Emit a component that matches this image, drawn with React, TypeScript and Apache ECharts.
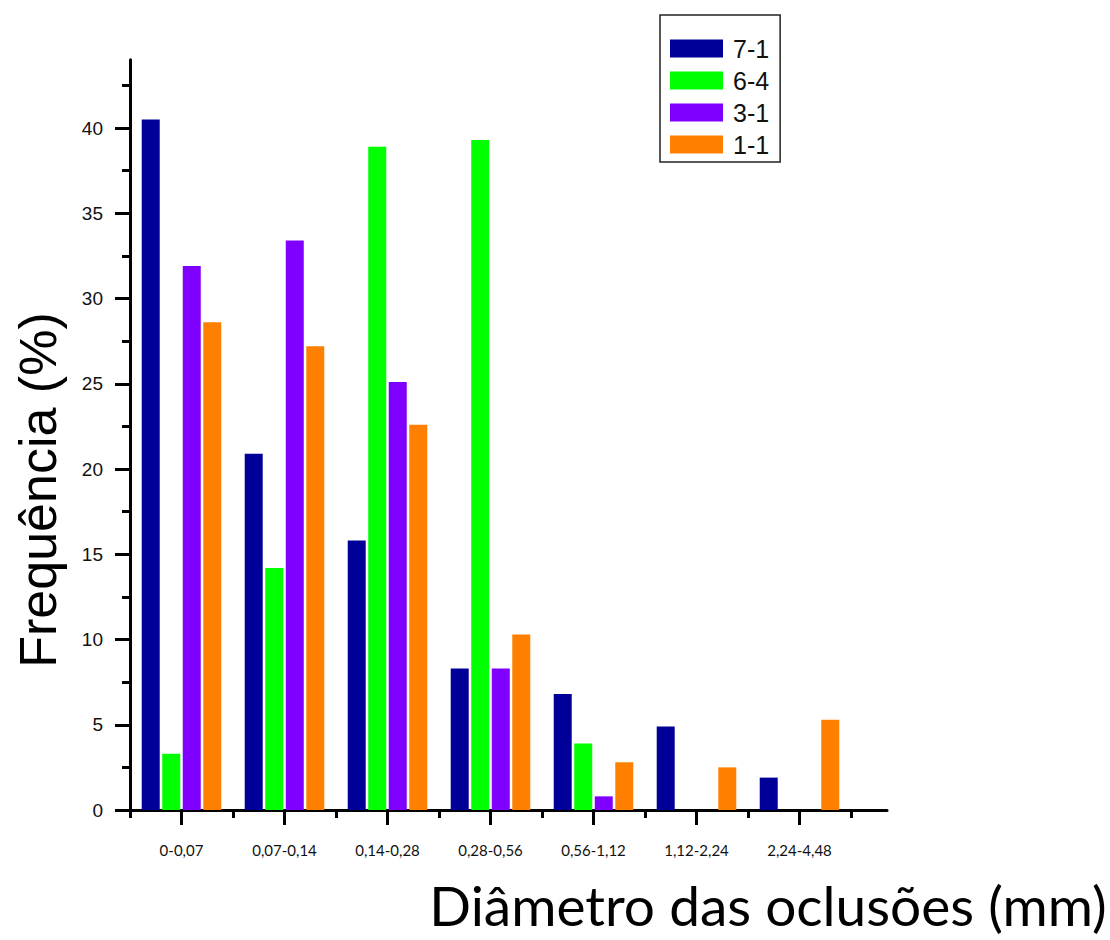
import React, { useEffect, useRef } from 'react';
import * as echarts from 'echarts';

// ---- data ----
const categories = ['0-0,07', '0,07-0,14', '0,14-0,28', '0,28-0,56', '0,56-1,12', '1,12-2,24', '2,24-4,48'];
const seriesNames = ['7-1', '6-4', '3-1', '1-1'];
const values71 = [40.5, 20.9, 15.8, 8.3, 6.8, 4.9, 1.9];
const values64 = [3.3, 14.2, 38.9, 39.3, 3.9, 0, 0];
const values31 = [31.9, 33.4, 25.1, 8.3, 0.8, 0, 0];
const values11 = [28.6, 27.2, 22.6, 10.3, 2.8, 2.5, 5.3];
const seriesColors = ['#000099', '#00FF00', '#8000FF', '#FF8000'];
const yMax = 44;
const yLabelMax = 40;
const yMinorMax = 42.5;

const xTitle = 'Diâmetro das oclusões (mm)';
const yTitle = 'Frequência (%)';

// ---- layout ----
const PX = 17.05; // pixels per unit
const X0 = 130;
const Y0 = 810;
const PLOT_W = 721;
const AXIS_W = 757;

export default function App() {
  const ref = useRef<HTMLDivElement>(null);

  useEffect(() => {
    if (!ref.current) return;
    const chart = echarts.init(ref.current, undefined, { renderer: 'svg' });
    const black = '#000';
    const seriesData = [values71, values64, values31, values11];

    const option: any = {
      animation: false,
      backgroundColor: '#fff',
      grid: [
        { left: X0, top: Y0 - yMax * PX, width: PLOT_W, height: yMax * PX },
        { left: X0, top: Y0 - yMax * PX, width: AXIS_W, height: yMax * PX },
        { left: X0, top: Y0 - yMinorMax * PX, width: PLOT_W, height: yMinorMax * PX },
        { left: X0, top: Y0 - yLabelMax * PX, width: PLOT_W, height: yLabelMax * PX },
      ],
      xAxis: [
        {
          type: 'category', gridIndex: 0, data: categories, position: 'bottom',
          axisLine: { show: true, lineStyle: { color: black, width: 3 } },
          axisTick: { show: true, alignWithLabel: false, length: 8, lineStyle: { color: black, width: 3 } },
          axisLabel: { show: false },
        },
        {
          type: 'category', gridIndex: 0, data: categories, position: 'bottom',
          axisLine: { show: false },
          axisTick: { show: true, alignWithLabel: true, length: 15, lineStyle: { color: black, width: 3 } },
          axisLabel: { show: true, interval: 0, margin: 32, fontSize: 15, fontFamily: 'Lato', color: '#111' },
        },
        {
          type: 'value', gridIndex: 1, min: 0, max: 1,
          axisLine: { show: true, lineStyle: { color: black, width: 3 } },
          axisTick: { show: false }, axisLabel: { show: false }, splitLine: { show: false },
        },
        { type: 'value', gridIndex: 2, show: false },
        { type: 'value', gridIndex: 3, show: false },
      ],
      yAxis: [
        {
          type: 'value', gridIndex: 0, min: 0, max: yMax,
          axisLine: { show: true, lineStyle: { color: black, width: 3 } },
          axisTick: { show: false }, axisLabel: { show: false }, splitLine: { show: false },
        },
        { type: 'value', gridIndex: 1, min: 0, max: 1, show: false },
        {
          type: 'value', gridIndex: 2, min: 0, max: yMinorMax, interval: 2.5,
          axisLine: { show: false },
          axisTick: { show: true, length: 8, lineStyle: { color: black, width: 3 } },
          axisLabel: { show: false }, splitLine: { show: false },
        },
        {
          type: 'value', gridIndex: 3, min: 0, max: yLabelMax, interval: 5,
          axisLine: { show: false },
          axisTick: { show: true, length: 15, lineStyle: { color: black, width: 3 } },
          axisLabel: { show: true, margin: 27, color: '#111', fontSize: 19, fontFamily: 'Liberation Sans' },
          splitLine: { show: false },
        },
      ],
      legend: {
        data: seriesNames,
        orient: 'vertical',
        left: 660,
        top: 15,
        padding: [21, 11, 5, 10],
        itemWidth: 53,
        itemHeight: 18,
        itemGap: 7,
        icon: 'rect',
        selectedMode: false,
        borderColor: '#222',
        borderWidth: 1.5,
        backgroundColor: '#fff',
        textStyle: { fontSize: 25, fontFamily: 'Liberation Sans', color: '#111', lineHeight: 25, padding: [0, 0, 0, 5] },
      },
      series: seriesNames.map((name, i) => ({
        name,
        type: 'bar',
        xAxisIndex: 0,
        yAxisIndex: 0,
        data: seriesData[i],
        barWidth: 18,
        barGap: '14%',
        itemStyle: { color: seriesColors[i] },
      })),
      graphic: [
        {
          type: 'text', x: 38, y: 490, rotation: Math.PI / 2,
          style: {
            text: yTitle, fontSize: 52, fontFamily: 'Liberation Sans', fill: '#000',
            align: 'center', verticalAlign: 'middle', textAlign: 'center', textVerticalAlign: 'middle',
          },
        },
        {
          type: 'text', x: 768, y: 905,
          style: {
            text: xTitle, fontSize: 55, fontFamily: 'Lato', fill: '#000',
            align: 'center', verticalAlign: 'middle', textAlign: 'center', textVerticalAlign: 'middle',
          },
        },
      ],
    };
    chart.setOption(option);
    return () => chart.dispose();
  }, []);

  return <div ref={ref} style={{ position: 'absolute', left: 0, top: 0, width: 1110, height: 940 }} />;
}
